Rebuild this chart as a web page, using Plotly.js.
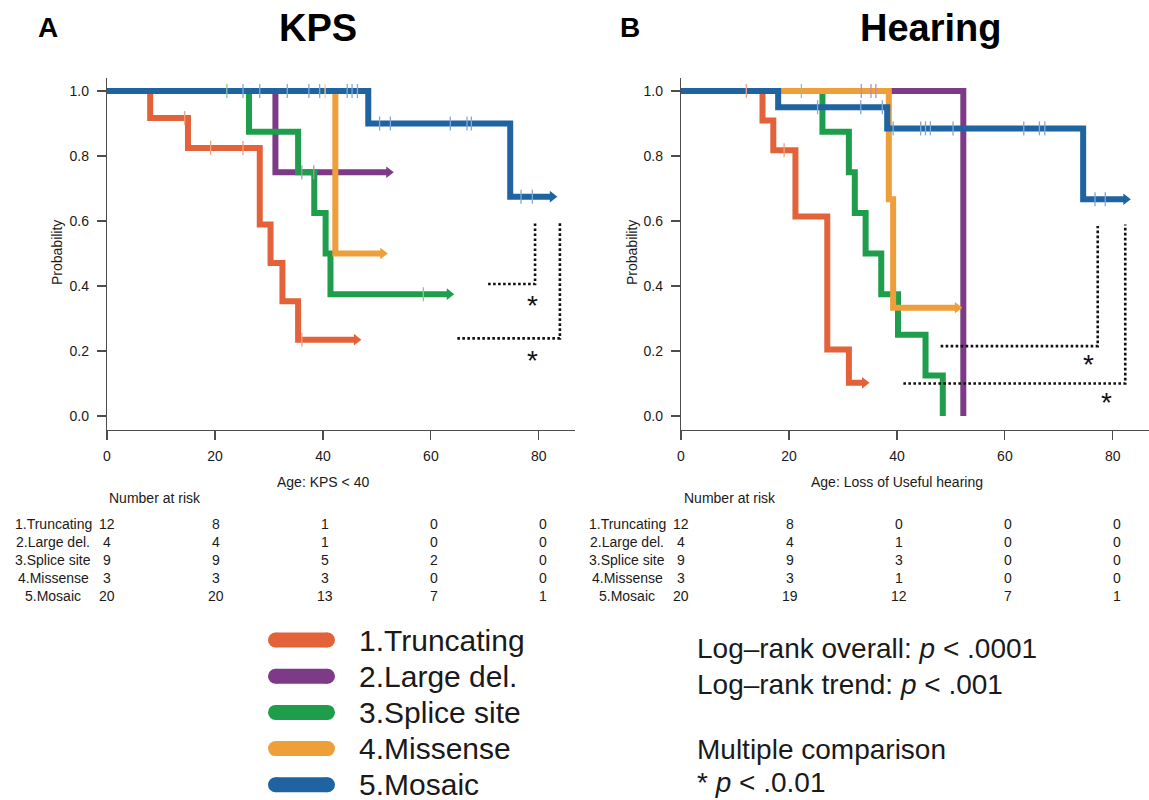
<!DOCTYPE html>
<html><head><meta charset="utf-8">
<script src="https://cdn.plot.ly/plotly-3.0.1.min.js"></script>
<style>html,body{margin:0;padding:0;background:#fff}#chart{width:1149px;height:800px}</style>
</head><body><div id="chart"></div>
<script>
// ---------- DATA ----------
const groups = ["1.Truncating", "2.Large del.", "3.Splice site", "4.Missense", "5.Mosaic"];
const colors = ["#E3623A", "#7D3B87", "#1E9E4B", "#EE9F3A", "#1F63A1"];
const tickColors = ["#F0A080", "#B88BC0", "#7FCB96", "#F6CB8E", "#7FA9D6"];

// Panel A: KPS (age at KPS < 40) – step times, survival, censor times
const kpsTimes = [
  [0, 8, 15, 28.3, 30.3, 32.5, 35.4, 46.2],
  [0, 31.2, 52.2],
  [0, 26.3, 35.4, 38.4, 40.5, 41.4, 63.4],
  [0, 42.3, 51.1],
  [0, 48.4, 74.7, 82.5]
];
const kpsSurv = [
  [1, 0.917, 0.825, 0.589, 0.471, 0.353, 0.235, 0.235],
  [1, 0.75, 0.75],
  [1, 0.875, 0.75, 0.625, 0.5, 0.375, 0.375],
  [1, 0.5, 0.5],
  [1, 0.9, 0.675, 0.675]
];
const kpsCensor = [
  [14.4, 19.2, 25.2, 36.1],
  [36.1, 38.3],
  [22.2, 58.6],
  [40.4],
  [25.2, 28.3, 33.4, 37.4, 39.4, 44.5, 45.4, 46.4, 50.5, 52.5, 63.6, 66.7, 67.5, 76.7, 78.8]
];

// Panel B: Hearing (age at loss of useful hearing)
const hearTimes = [
  [0, 15.1, 17.1, 21.2, 27.1, 31.1, 34.0],
  [0, 52.3],
  [0, 26.2, 31.1, 32.2, 34.2, 37.1, 40.2, 45.3, 48.5],
  [0, 38.5, 39.3, 51.2],
  [0, 18.0, 38.2, 74.5, 82.4]
];
const hearSurv = [
  [1, 0.909, 0.818, 0.614, 0.205, 0.102, 0.102],
  [1, 0],
  [1, 0.875, 0.75, 0.625, 0.5, 0.375, 0.25, 0.125, 0],
  [1, 0.667, 0.333, 0.333],
  [1, 0.95, 0.885, 0.667, 0.667]
];
const hearCensor = [
  [12.1, 19.1],
  [33.4, 35.2, 36.1],
  [22.3],
  [],
  [25.3, 33.3, 37.3, 39.3, 44.4, 45.3, 46.2, 50.4, 63.5, 66.4, 67.4, 76.7, 78.6]
];

// Number at risk
const riskTimes = [0, 20, 40, 60, 80];
const kpsRisk = [[12, 8, 1, 0, 0], [4, 4, 1, 0, 0], [9, 9, 5, 2, 0], [3, 3, 3, 0, 0], [20, 20, 13, 7, 1]];
const hearRisk = [[12, 8, 0, 0, 0], [4, 4, 1, 0, 0], [9, 9, 3, 0, 0], [3, 3, 1, 0, 0], [20, 19, 12, 7, 1]];

// Multiple-comparison brackets: [x start, x corner, y horizontal, y top]
const kpsBrackets = [[70.6, 79.3, 0.406, 0.598], [64.9, 83.9, 0.239, 0.595]];
const kpsStars = [[78.8, 0.36], [78.8, 0.188]];
const hearBrackets = [[48.1, 77.2, 0.215, 0.585], [41.2, 82.3, 0.10, 0.589]];
const hearStars = [[75.4, 0.178], [78.8, 0.06]];

// ---------- DRAWING ----------
const W = 1149, H = 800;
const FONT = '"Liberation Sans", Arial, Helvetica, sans-serif';
const TXT = '#1a1a1a';

function stepAt(t, times, surv) {
  let v = surv[0];
  for (let i = 0; i < times.length; i++) if (times[i] <= t) v = surv[i];
  return v;
}

const traces = [];
const annotations = [];

function addPanel(times, surv, cens, brackets, stars, xa, ya) {
  groups.forEach((g, i) => {
    traces.push({type: 'scatter', mode: 'lines', x: times[i], y: surv[i], xaxis: xa, yaxis: ya,
      line: {shape: 'hv', color: colors[i], width: 6}, showlegend: false, hoverinfo: 'skip'});
  });
  groups.forEach((g, i) => {
    const n = times[i].length;
    if (surv[i][n - 1] > 0) {
      traces.push({type: 'scatter', mode: 'markers', x: [times[i][n - 1]], y: [surv[i][n - 1]], xaxis: xa, yaxis: ya,
        marker: {symbol: 'triangle-right', size: 10, color: colors[i]}, showlegend: false, hoverinfo: 'skip'});
    }
  });
  groups.forEach((g, i) => {
    traces.push({type: 'scatter', mode: 'markers', x: cens[i], y: cens[i].map(t => stepAt(t, times[i], surv[i])),
      xaxis: xa, yaxis: ya, marker: {symbol: 'line-ns', size: 10, line: {width: 1.3, color: tickColors[i]}},
      showlegend: false, hoverinfo: 'skip'});
  });
  brackets.forEach(b => {
    traces.push({type: 'scatter', mode: 'lines', x: [b[0], b[1], b[1]], y: [b[2], b[2], b[3]], xaxis: xa, yaxis: ya,
      line: {color: '#111', width: 2.6, dash: '2.6px,2.4px'}, showlegend: false, hoverinfo: 'skip'});
  });
  stars.forEach(s => {
    annotations.push({xref: xa, yref: ya, x: s[0], y: s[1], text: '*', showarrow: false, yshift: -6,
      font: {family: FONT, size: 28, color: '#111'}});
  });
}

addPanel(kpsTimes, kpsSurv, kpsCensor, kpsBrackets, kpsStars, 'x', 'y');
addPanel(hearTimes, hearSurv, hearCensor, hearBrackets, hearStars, 'x2', 'y2');

// custom legend (page-pixel overlay axis x3/y3)
const legendRows = groups.map((g, i) => 640 + 36.2 * i);
groups.forEach((g, i) => {
  traces.push({type: 'scatter', mode: 'lines+markers', x: [275.5, 327.5], y: [legendRows[i], legendRows[i]],
    xaxis: 'x3', yaxis: 'y3', line: {color: colors[i], width: 15}, marker: {size: 15, color: colors[i]},
    showlegend: false, hoverinfo: 'skip'});
  annotations.push({xref: 'x3', yref: 'y3', x: 357, y: legendRows[i], xanchor: 'left', yanchor: 'middle',
    text: g, showarrow: false, font: {family: FONT, size: 30, color: TXT}});
});

function px(text, x, y, size, extra) {
  return Object.assign({xref: 'x3', yref: 'y3', x: x, y: y, text: text, showarrow: false,
    xanchor: 'center', yanchor: 'middle', font: {family: FONT, size: size, color: TXT}}, extra || {});
}

// titles
annotations.push(px('<b>A</b>', 48, 27, 28, {font: {family: FONT, size: 28, color: '#000'}}));
annotations.push(px('<b>KPS</b>', 318, 28, 38, {font: {family: FONT, size: 38, color: '#000'}}));
annotations.push(px('<b>B</b>', 630, 27, 28, {font: {family: FONT, size: 28, color: '#000'}}));
annotations.push(px('<b>Hearing</b>', 930, 28, 38, {font: {family: FONT, size: 38, color: '#000'}}));

// axis titles
annotations.push(px('Probability', 57, 253, 14, {textangle: -90}));
annotations.push(px('Probability', 632, 253, 14, {textangle: -90}));
annotations.push({xref: 'x', yref: 'y3', x: 40, y: 482, text: 'Age: KPS &lt; 40', showarrow: false,
  font: {family: FONT, size: 14, color: TXT}});
annotations.push({xref: 'x2', yref: 'y3', x: 40, y: 482, text: 'Age: Loss of Useful hearing', showarrow: false,
  font: {family: FONT, size: 14, color: TXT}});

// risk tables
const rowY = groups.map((g, i) => 524 + 18 * i);
function riskTable(risk, xa, labelX, headX) {
  annotations.push(px('Number at risk', headX, 498, 14, {xanchor: 'left'}));
  groups.forEach((g, i) => {
    annotations.push(px(g, labelX, rowY[i], 14));
    riskTimes.forEach((t, j) => {
      annotations.push({xref: xa, yref: 'y3', x: t, y: rowY[i], text: String(risk[i][j]), showarrow: false,
        xshift: t / 80 * 4, font: {family: FONT, size: 14, color: TXT}});
    });
  });
}
riskTable(kpsRisk, 'x', 53, 107);
riskTable(hearRisk, 'x2', 627, 682);

// statistics text
annotations.push(px('Log–rank overall: <i>p</i> &lt; .0001', 695, 648, 28, {xanchor: 'left'}));
annotations.push(px('Log–rank trend: <i>p</i> &lt; .001', 695, 684, 28, {xanchor: 'left'}));
annotations.push(px('Multiple comparison', 695, 749, 28, {xanchor: 'left'}));
annotations.push(px('* <i>p</i> &lt; .0.01', 695, 782, 28, {xanchor: 'left'}));

const axX = {showline: true, linecolor: '#4d4d4d', linewidth: 1.2, ticks: 'outside', ticklen: 9, tickwidth: 1.2,
  tickcolor: '#4d4d4d', showgrid: false, zeroline: false, tickvals: riskTimes, range: [0, 86.7],
  tickfont: {family: FONT, size: 14, color: TXT}, ticklabelstandoff: 4, fixedrange: true};
const axY = {showline: true, linecolor: '#4d4d4d', linewidth: 1.2, ticks: 'outside', ticklen: 9, tickwidth: 1.2,
  tickcolor: '#4d4d4d', showgrid: false, zeroline: false, tickvals: [0, 0.2, 0.4, 0.6, 0.8, 1.0], tickformat: '.1f',
  range: [-0.043, 1.04], domain: [1 - 430 / H, 1 - 78 / H], tickfont: {family: FONT, size: 14, color: TXT},
  ticklabelstandoff: 5, fixedrange: true};

const layout = {
  width: W, height: H, autosize: false, margin: {l: 0, r: 0, t: 0, b: 0},
  paper_bgcolor: '#fff', plot_bgcolor: 'rgba(0,0,0,0)', showlegend: false,
  xaxis: Object.assign({}, axX, {domain: [107 / W, 575 / W], anchor: 'y'}),
  yaxis: Object.assign({}, axY, {anchor: 'x'}),
  xaxis2: Object.assign({}, axX, {domain: [681 / W, 1], anchor: 'y2'}),
  yaxis2: Object.assign({}, axY, {anchor: 'x2'}),
  xaxis3: {domain: [0, 1], range: [0, W], visible: false, fixedrange: true, anchor: 'y3'},
  yaxis3: {domain: [0, 1], range: [H, 0], visible: false, fixedrange: true, anchor: 'x3'},
  annotations: annotations
};

Plotly.newPlot('chart', traces, layout, {displayModeBar: false, staticPlot: true});
</script>
</body></html>
